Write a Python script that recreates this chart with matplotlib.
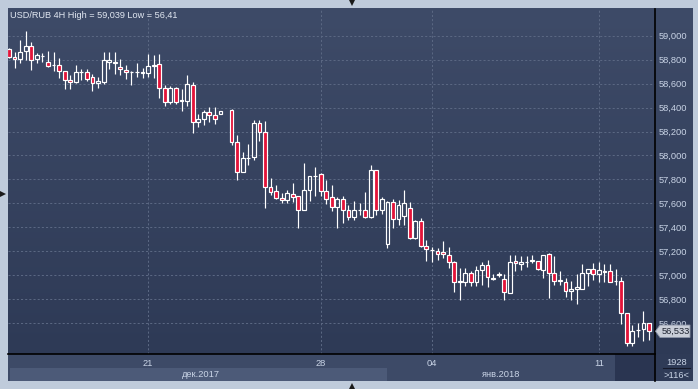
import matplotlib
matplotlib.use('Agg')
import matplotlib.pyplot as plt
import matplotlib.transforms as mtransforms
from matplotlib.patches import Rectangle, Polygon
import numpy as np

plt.rcParams['font.family'] = ['Liberation Sans', 'DejaVu Sans']

title = "USD/RUB 4H High = 59,039 Low = 56,41"

open_ = [58.886, 58.820, 58.803, 58.868, 58.910, 58.803, 58.828, 58.778, 58.751, 58.751,
         58.704, 58.629, 58.612, 58.693, 58.694, 58.653, 58.603, 58.616, 58.783, 58.778,
         58.741, 58.714, 58.694, 58.693, 58.689, 58.689, 58.747, 58.761, 58.561, 58.449,
         58.561, 58.461, 58.457, 58.588, 58.282, 58.301, 58.361, 58.336, 58.342, np.nan,
         58.377, 58.110, 57.865, 57.977, 57.990, 58.269, 58.194, 57.733, 57.704, 57.649,
         57.627, 57.676, 57.662, 57.543, 57.708, 57.827, 57.846, 57.706, 57.651, 57.568,
         57.634, 57.545, 57.484, 57.543, 57.545, 57.484, 57.879, 57.545, 57.259, 57.614,
         57.467, 57.495, 57.559, 57.309, 57.456, 57.245, 57.214, 57.205, 57.197, 57.169,
         57.115, 56.944, 56.947, 57.017, 56.947, 57.044, 57.086, 56.973, 57.006, 56.969,
         56.856, 57.119, 57.092, 57.112, 57.120, 57.119, 57.044, 57.178, 57.022, 56.952,
         56.947, 56.866, 56.883, 56.886, 57.017, 57.050, 57.011, 57.028, 57.036, 56.955,
         56.955, 56.683, 56.437, 56.541, 56.552, 56.599]

high = [58.897, 58.866, 58.964, 59.039, 58.943, 58.856, 58.858, 58.872, 58.861, 58.811,
        58.705, 58.668, 58.753, 58.725, 58.725, 58.683, 58.658, 58.864, 58.861, 58.861,
        58.806, 58.755, 58.701, 58.770, 58.728, 58.845, 58.835, 58.847, 58.588, 58.580,
        58.574, 58.555, 58.672, 58.611, 58.344, 58.380, 58.407, 58.402, 58.371, np.nan,
        58.392, 58.167, 58.027, 58.096, 58.296, 58.296, 58.288, 57.812, 57.754, 57.687,
        57.712, 57.773, 57.664, 57.940, 57.831, 57.907, 57.851, 57.796, 57.754, 57.651,
        57.662, 57.587, 57.623, 57.606, 57.693, 57.921, 57.881, 57.651, 57.623, 57.634,
        57.629, 57.712, 57.614, 57.458, 57.476, 57.295, 57.239, 57.225, 57.282, 57.236,
        57.119, 57.061, 57.058, 57.036, 57.078, 57.111, 57.125, 57.011, 57.025, 57.011,
        57.169, 57.169, 57.165, 57.165, 57.169, 57.122, 57.171, 57.189, 57.161, 57.038,
        56.975, 56.955, 57.011, 57.094, 57.052, 57.100, 57.109, 57.094, 57.094, 57.050,
        56.983, 56.685, 56.585, 56.599, 56.702, 56.604]

low = [58.810, 58.733, 58.770, 58.801, 58.714, 58.770, 58.780, 58.741, 58.705, 58.649,
       58.558, 58.555, 58.609, 58.630, 58.624, 58.534, 58.559, 58.597, 58.720, 58.680,
       58.672, 58.636, 58.588, 58.651, 58.649, 58.655, 58.649, 58.482, 58.413, 58.427,
       58.427, 58.374, 58.413, 58.190, 58.240, 58.255, 58.282, 58.263, 58.342, np.nan,
       58.088, 57.796, 57.862, 57.921, 57.962, 58.117, 57.564, 57.670, 57.633, 57.604,
       57.601, 57.614, 57.392, 57.541, 57.623, 57.662, 57.662, 57.593, 57.537, 57.392,
       57.439, 57.462, 57.462, 57.503, 57.482, 57.482, 57.503, 57.512, 57.225, 57.392,
       57.420, 57.420, 57.307, 57.307, 57.234, 57.119, 57.111, 57.128, 57.142, 57.058,
       56.863, 56.794, 56.911, 56.911, 56.907, 56.919, 56.905, 56.957, 56.986, 56.794,
       56.850, 57.036, 57.044, 57.072, 57.105, 57.044, 56.980, 56.813, 56.919, 56.919,
       56.821, 56.794, 56.760, 56.883, 56.911, 56.961, 56.942, 56.947, 56.945, 56.919,
       56.594, 56.410, 56.412, 56.482, 56.454, 56.460]

close = [58.820, 58.803, 58.861, 58.910, 58.797, 58.836, 58.833, 58.743, 58.755, 58.704,
         58.629, 58.612, 58.695, 58.697, 58.636, 58.603, 58.619, 58.795, 58.793, 58.772,
         58.720, 58.694, 58.697, 58.697, 58.693, 58.745, 58.753, 58.561, 58.449, 58.561,
         58.444, 58.456, 58.595, 58.282, 58.302, 58.361, 58.336, 58.302, 58.371, np.nan,
         58.115, 57.865, 57.977, 57.981, 58.269, 58.192, 57.733, 57.698, 57.649, 57.627,
         57.684, 57.651, 57.543, 57.712, 57.829, 57.831, 57.706, 57.634, 57.573, 57.634,
         57.545, 57.484, 57.545, 57.547, 57.484, 57.879, 57.545, 57.634, 57.614, 57.467,
         57.587, 57.601, 57.309, 57.456, 57.245, 57.217, 57.209, 57.175, 57.175, 57.115,
         56.947, 56.950, 57.017, 56.947, 57.048, 57.086, 56.983, 56.977, 57.010, 56.858,
         57.114, 57.100, 57.109, 57.115, 57.124, 57.050, 57.169, 57.022, 56.955, 56.957,
         56.871, 56.883, 56.900, 57.017, 57.050, 57.011, 57.044, 57.032, 56.947, 56.952,
         56.683, 56.437, 56.535, 56.545, 56.604, 56.533]

day_tick_bars = [25, 56, 76, 106]
day_tick_labels = ['21', '28', '04', '11']
month_labels = ['дек.2017', 'янв.2018']
month_spans = [(1, 68), (68, 109)]
price_ticks = [56.6, 56.8, 57.0, 57.2, 57.4, 57.6, 57.8, 58.0, 58.2, 58.4, 58.6, 58.8, 59.0]
last_price = 56.533
bars_total = '1928'
bars_visible = '>116<'

# ---------------- layout ----------------
W, H = 698, 389
fig = plt.figure(figsize=(W / 100, H / 100), dpi=100)
fig.patch.set_facecolor('#bfcbdb')

def fx(px):
    return px / W

def fy(py):
    return 1 - py / H

L_, R_, T_, B_ = 8, 655, 8.7, 354      # main plot
RP = 693                               # right edge of price panel
BB = 381                               # bottom edge of time panel

TXT = '#c9d4e6'
FS = 6.7

deco = fig.add_axes([0, 0, 1, 1])
deco.set_xlim(0, W)
deco.set_ylim(H, 0)
deco.axis('off')
deco.set_zorder(0)

top_c = np.array([0x3e, 0x4b, 0x68]) / 255
bot_c = np.array([0x2e, 0x3a, 0x56]) / 255
t = np.linspace(0, 1, 256)[:, None, None]
grad = top_c[None, None, :] * (1 - t) + bot_c[None, None, :] * t
deco.imshow(grad, extent=[L_, RP, B_, T_], origin='upper', aspect='auto',
            interpolation='bilinear', zorder=0)
deco.add_patch(Rectangle((L_, B_), RP - L_, BB - B_, facecolor='#3d4a67', edgecolor='none', zorder=1))
deco.add_patch(Rectangle((615, B_), 40, BB - B_, facecolor='#2a3551', edgecolor='none', zorder=2))
deco.add_patch(Rectangle((655, B_), RP - 655, BB - B_, facecolor='#2f3b57', edgecolor='none', zorder=2))

ax = fig.add_axes([fx(L_), fy(B_), fx(R_ - L_), (B_ - T_) / H])
ax.set_zorder(1)
ax.patch.set_visible(False)

x = np.arange(len(open_))
o = np.array(open_); h = np.array(high); lo = np.array(low); c = np.array(close)
valid = ~np.isnan(o)
x, o, h, lo, c = x[valid], o[valid], h[valid], lo[valid], c[valid]
up = c >= o
b_lo = np.minimum(o, c)
b_hi = np.maximum(o, c)

ax.set_xlim(-0.18, 116.08)
ax.set_ylim(56.343, 59.225)

for p in price_ticks:
    ax.axhline(p, color='#5a6782', lw=0.75, ls=(0, (2, 2)), zorder=1)
for b in day_tick_bars:
    ax.axvline(b, color='#5a6782', lw=0.75, ls=(0, (2, 2)), zorder=1)

lw = 0.85
ax.vlines(x, b_hi, h, color='white', lw=lw, zorder=3)
ax.vlines(x, lo, b_lo, color='white', lw=lw, zorder=3)
bw = 0.68
hgt = np.maximum(b_hi - b_lo, 0.003)
ax.bar(x[up], hgt[up], bottom=b_lo[up], width=bw, facecolor='none',
       edgecolor='white', lw=lw, zorder=4)
ax.bar(x[~up], hgt[~up], bottom=b_lo[~up], width=bw, facecolor='#e3143a',
       edgecolor='white', lw=lw, zorder=4)

for s in ['left', 'top']:
    ax.spines[s].set_visible(False)
for s in ['right', 'bottom']:
    ax.spines[s].set_color('black')
    ax.spines[s].set_linewidth(1.2)
ax.yaxis.tick_right()
ax.set_yticks(price_ticks)
ax.set_yticklabels([f"{p:.3f}".replace('.', ',') for p in price_ticks])
ax.tick_params(axis='y', length=0, pad=2.3, labelsize=FS, labelcolor=TXT)
ax.set_xticks(day_tick_bars)
ax.set_xticklabels(day_tick_labels)
ax.tick_params(axis='x', length=0, pad=3.6, labelsize=FS, labelcolor=TXT)

btr = mtransforms.blended_transform_factory(ax.transData, fig.transFigure)
ax.add_patch(Rectangle((month_spans[0][0] - 0.9, fy(BB)), month_spans[0][1] - month_spans[0][0] + 0.9,
                       (BB - 367.5) / H, transform=btr, facecolor='#4c5a78',
                       edgecolor='none', clip_on=False, zorder=0))
for lab, (a, b) in zip(month_labels, month_spans):
    ax.text((a + b) / 2, fy(374.5), lab, transform=btr, ha='center', va='center',
            fontsize=FS, color=TXT, clip_on=False)

ptr = mtransforms.blended_transform_factory(ax.transAxes, ax.transData)
px1 = 1.0 / (R_ - L_)
hh = 6.2 / ((B_ - T_) / (59.225 - 56.343))
poly = Polygon([(0.5 * px1 + 1.0, last_price), (1.0 + 5 * px1, last_price + hh),
                (1.0 + 35 * px1, last_price + hh), (1.0 + 35 * px1, last_price - hh),
                (1.0 + 5 * px1, last_price - hh)], closed=True, transform=ptr,
               facecolor='#c9ced8', edgecolor='#8d96a8', lw=0.6, clip_on=False, zorder=10)
ax.add_patch(poly)
ax.text(1.0 + 20.5 * px1, last_price, f"{last_price:.3f}".replace('.', ','), transform=ptr,
        ha='center', va='center', fontsize=FS, color='#1e2330', clip_on=False, zorder=11)

fig.text(fx(10), fy(15.2), title, ha='left', va='center', fontsize=6.6, color='#e2e8f2')

fig.text(fx(676.5), fy(362.5), bars_total, ha='center', va='center', fontsize=FS, color=TXT)
fig.text(fx(676.5), fy(375), bars_visible, ha='center', va='center', fontsize=FS, color=TXT)

top = fig.add_axes([0, 0, 1, 1])
top.set_xlim(0, W)
top.set_ylim(H, 0)
top.axis('off')
top.set_zorder(5)
top.plot([663, 690], [368, 368], color='#15192a', lw=0.8)
top.plot([655, 655], [354, BB], color='black', lw=1.2)
top.plot([352], [3.3], marker='v', color='#1a1a1a', ms=4.5, mew=0)
top.plot([352], [386], marker='^', color='#1a1a1a', ms=4.5, mew=0)
top.plot([2.5], [194], marker='>', color='#1a1a1a', ms=4.5, mew=0)

fig.savefig('out.png', dpi=100, facecolor=fig.get_facecolor())
